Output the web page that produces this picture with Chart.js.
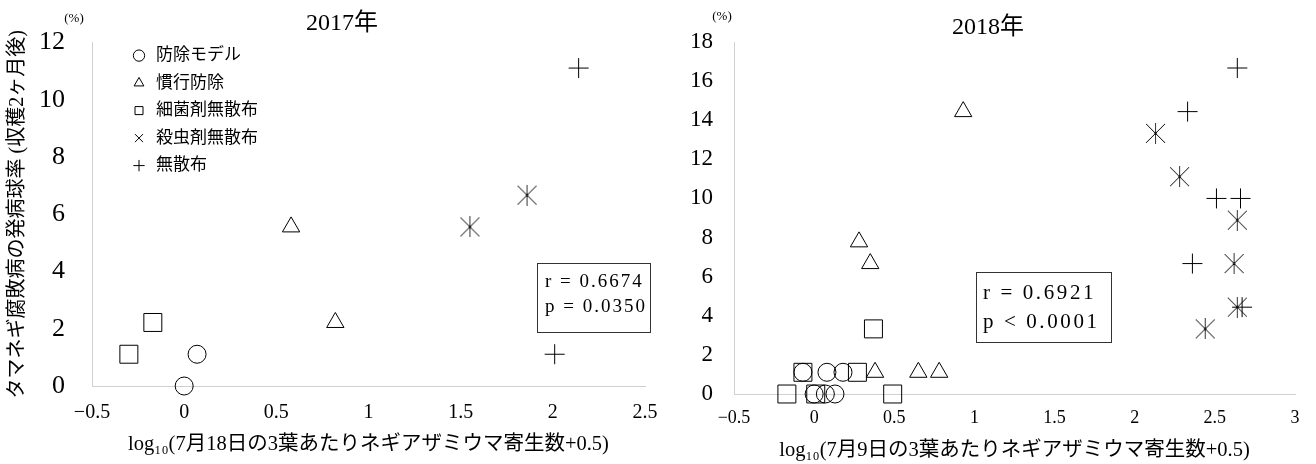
<!DOCTYPE html>
<html>
<head>
<meta charset="utf-8">
<script src="https://cdn.jsdelivr.net/npm/chart.js@4.4.0/dist/chart.umd.min.js"></script>
<style>
  html, body { margin: 0; padding: 0; background: #fff; }
  #wrap { position: relative; width: 1316px; height: 464px; overflow: hidden; }
  #c2017 { position: absolute; left: 0; top: 0; }
  #c2018 { position: absolute; left: 660px; top: 0; }
</style>
</head>
<body>
<div id="wrap">
  <canvas id="c2017" width="684" height="464"></canvas>
  <canvas id="c2018" width="656" height="464"></canvas>
</div>
<script>
// ---- data ----
const SERIES_NAMES = ['防除モデル', '慣行防除', '細菌剤無散布', '殺虫剤無散布', '無散布'];

// 2017: x = log10(7月18日の寄生数+0.5), y = 発病球率 (%)
const X17_MODEL   = [0, 0.07];     const Y17_MODEL   = [0, 1.11];
const X17_KANKO   = [0.58, 0.82];  const Y17_KANKO   = [5.56, 2.22];
const X17_SAIKIN  = [-0.30, -0.17];const Y17_SAIKIN  = [1.11, 2.22];
const X17_SATCHU  = [1.55, 1.86];  const Y17_SATCHU  = [5.56, 6.67];
const X17_MUSANPU = [2.01, 2.14];  const Y17_MUSANPU = [1.11, 11.11];

// 2018: x = log10(7月9日の寄生数+0.5)
const X18_MODEL   = [-0.07, 0.08, 0.18, 0.00, 0.07, 0.13];
const Y18_MODEL   = [1.11, 1.11, 1.11, 0, 0, 0];
const X18_KANKO   = [0.38, 0.65, 0.78, 0.28, 0.35, 0.93];
const Y18_KANKO   = [1.11, 1.11, 1.11, 7.78, 6.67, 14.44];
const X18_SAIKIN  = [-0.07, 0.27, -0.17, 0.01, 0.49, 0.37];
const Y18_SAIKIN  = [1.11, 1.11, 0, 0, 0, 3.33];
const X18_SATCHU  = [2.13, 2.28, 2.64, 2.62, 2.64, 2.44];
const Y18_SATCHU  = [13.33, 11.11, 8.89, 6.67, 4.44, 3.33];
const X18_MUSANPU = [2.64, 2.33, 2.51, 2.66, 2.36, 2.67];
const Y18_MUSANPU = [16.67, 14.44, 10, 10, 6.67, 4.44];

const X17_TICKS = ['−0.5', '0', '0.5', '1', '1.5', '2', '2.5'];
const Y17_TICKS = ['0', '2', '4', '6', '8', '10', '12'];
const X18_TICKS = ['−0.5', '0', '0.5', '1', '1.5', '2', '2.5', '3'];
const Y18_TICKS = ['0', '2', '4', '6', '8', '10', '12', '14', '16', '18'];

const STATS17 = ['r = 0.6674', 'p = 0.0350'];
const STATS18 = ['r = 0.6921', 'p < 0.0001'];

// ---- styling ----
const FONT = '"Liberation Serif", "Noto Sans CJK JP", serif';
const AXIS_GRAY = '#d0d0d0';

function makeAsterisk(size) {
  const c = document.createElement('canvas');
  c.width = size; c.height = size;
  const g = c.getContext('2d');
  const h = size / 2;
  g.strokeStyle = '#000'; g.lineWidth = 1;
  g.beginPath();
  g.moveTo(1, 1); g.lineTo(size - 1, size - 1);
  g.moveTo(size - 1, 1); g.lineTo(1, size - 1);
  g.stroke();
  g.strokeStyle = '#333';
  g.beginPath(); g.moveTo(h, 0); g.lineTo(h, size); g.stroke();
  g.fillStyle = '#000';
  g.fillRect(h - 1, h - 1, 2, 2);
  return c;
}
const ASTERISK = makeAsterisk(21);

const MARKS = [
  { style: 'circle', r: 9 },
  { style: 'triangle', r: 10 },
  { style: 'rect', r: 12.7 },
  { style: ASTERISK, r: 10 },
  { style: 'cross', r: 10 }
];

function buildSets(xs, ys) {
  return SERIES_NAMES.map((name, i) => ({
    label: name,
    data: xs[i].map((x, j) => ({ x: x, y: ys[i][j] })),
    pointStyle: MARKS[i].style,
    pointRadius: MARKS[i].r,
    pointHoverRadius: MARKS[i].r,
    borderColor: '#000',
    backgroundColor: 'rgba(0,0,0,0)',
    borderWidth: 1,
    clip: false
  }));
}

// draws "(%)" and the r/p box
const notesPlugin = {
  id: 'notes',
  afterDraw(chart, args, o) {
    const ctx = chart.ctx, a = chart.chartArea;
    ctx.save();
    ctx.fillStyle = '#000';
    ctx.font = '13px ' + FONT;
    ctx.textAlign = 'center'; ctx.textBaseline = 'middle';
    ctx.fillText('(%)', a.left + o.pctDx, o.pctY);

    const bx = a.left + o.box[0], by = a.top + o.box[1];
    ctx.strokeStyle = '#333'; ctx.lineWidth = 1;
    ctx.strokeRect(Math.round(bx) + 0.5, Math.round(by) + 0.5, o.box[2], o.box[3]);
    ctx.font = o.fontSize + 'px ' + FONT;
    ctx.textAlign = 'left';
    ctx.letterSpacing = o.spacing + 'px';
    o.lines.forEach((t, i) => ctx.fillText(t, bx + o.textDx, by + o.textDy + i * o.lineGap));
    ctx.restore();
  }
};

// the in-area legend sits at the top left of the plot, a little inset
const legendShift = {
  id: 'legendShift',
  afterLayout(chart, args, o) {
    const lg = chart.legend, a = chart.chartArea;
    if (!lg || !lg.options.display) return;
    lg.left = a.left + o.dx;
    lg.top = a.top + o.dy;
    lg.bottom = a.bottom;
  }
};

function makeChart(id, cfg) {
  return new Chart(document.getElementById(id), {
    type: 'scatter',
    data: { datasets: buildSets(cfg.xs, cfg.ys) },
    plugins: [notesPlugin, legendShift],
    options: {
      responsive: false,
      animation: false,
      layout: { padding: 0 },
      plugins: {
        title: {
          display: true, text: cfg.title, color: '#000',
          font: { family: FONT, size: 24, weight: 'normal' },
          padding: cfg.titlePad
        },
        legend: {
          display: cfg.legend,
          position: 'chartArea',
          align: 'start',
          labels: {
            color: '#000',
            font: { family: FONT, size: 17 },
            usePointStyle: true,
            boxWidth: 17, boxHeight: 8,
            padding: 10.5,
            generateLabels(chart) {
              const items = Chart.defaults.plugins.legend.labels.generateLabels(chart);
              items.forEach(it => { if (typeof it.pointStyle !== 'string') it.pointStyle = 'crossRot'; });
              return items;
            }
          }
        },
        legendShift: { dx: 28, dy: -6 },
        tooltip: { enabled: false },
        notes: cfg.notes
      },
      scales: {
        x: {
          type: 'linear', min: cfg.xMin, max: cfg.xMax,
          grid: { display: false, drawTicks: false },
          border: { display: true, color: AXIS_GRAY, width: 1 },
          ticks: {
            stepSize: 0.5, color: '#000', padding: cfg.xTickPad,
            font: { family: FONT, size: cfg.xTickSize },
            maxRotation: 0, autoSkip: false,
            callback: (v, i) => cfg.xTicks[i]
          },
          title: {
            display: true, text: cfg.xTitle, color: '#000',
            font: { family: FONT, size: 20.5 },
            padding: { top: 0, bottom: cfg.xTitlePad }
          },
          afterFit(s) {
            s.height = cfg.xHeight;
            s.paddingLeft = 0;
            s.paddingRight = cfg.padRight;
          }
        },
        y: {
          type: 'linear', min: 0, max: cfg.yMax,
          grid: { display: false, drawTicks: false },
          border: { display: true, color: AXIS_GRAY, width: 1 },
          ticks: {
            stepSize: 2, color: '#000', padding: cfg.yTickPad,
            font: { family: FONT, size: cfg.yTickSize },
            autoSkip: false,
            callback: (v, i) => cfg.yTicks[i]
          },
          title: {
            display: !!cfg.yTitle, text: cfg.yTitle || '', color: '#000',
            font: { family: FONT, size: 20 },
            padding: { top: 6, bottom: 0 }
          },
          afterFit(s) { s.width = cfg.yWidth; }
        }
      }
    }
  });
}

makeChart('c2017', {
  title: '2017年',
  titlePad: { top: 8.6, bottom: 4.6 },
  legend: true,
  xs: [X17_MODEL, X17_KANKO, X17_SAIKIN, X17_SATCHU, X17_MUSANPU],
  ys: [Y17_MODEL, Y17_KANKO, Y17_SAIKIN, Y17_SATCHU, Y17_MUSANPU],
  xMin: -0.5, xMax: 2.5, yMax: 12,
  xTicks: X17_TICKS, yTicks: Y17_TICKS,
  xTickSize: 20, xTickPad: 15, yTickSize: 26, yTickPad: 27,
  xTitle: 'log₁₀(7月18日の3葉あたりネギアザミウマ寄生数+0.5)', xTitlePad: 6.7,
  yTitle: 'タマネギ腐敗病の発病球率 (収穫2ヶ月後)',
  xHeight: 78, yWidth: 92, padRight: 39,
  notes: { pctDx: -18, pctY: 19, box: [445, 220, 113, 69], fontSize: 19, spacing: 2,
           textDx: 8, textDy: 19, lineGap: 25, lines: STATS17 }
});

makeChart('c2018', {
  title: '2018年',
  titlePad: { top: 13.2, bottom: 0 },
  legend: false,
  xs: [X18_MODEL, X18_KANKO, X18_SAIKIN, X18_SATCHU, X18_MUSANPU],
  ys: [Y18_MODEL, Y18_KANKO, Y18_SAIKIN, Y18_SATCHU, Y18_MUSANPU],
  xMin: -0.5, xMax: 3, yMax: 18,
  xTicks: X18_TICKS, yTicks: Y18_TICKS,
  xTickSize: 18, xTickPad: 13.4, yTickSize: 23, yTickPad: 21,
  xTitle: 'log₁₀(7月9日の3葉あたりネギアザミウマ寄生数+0.5)', xTitlePad: 0.7,
  yTitle: '',
  xHeight: 70, yWidth: 74, padRight: 21,
  notes: { pctDx: -12, pctY: 17, box: [242, 230, 135, 70], fontSize: 21, spacing: 2.6,
           textDx: 7, textDy: 21, lineGap: 29, lines: STATS18 }
});
</script>
</body>
</html>
